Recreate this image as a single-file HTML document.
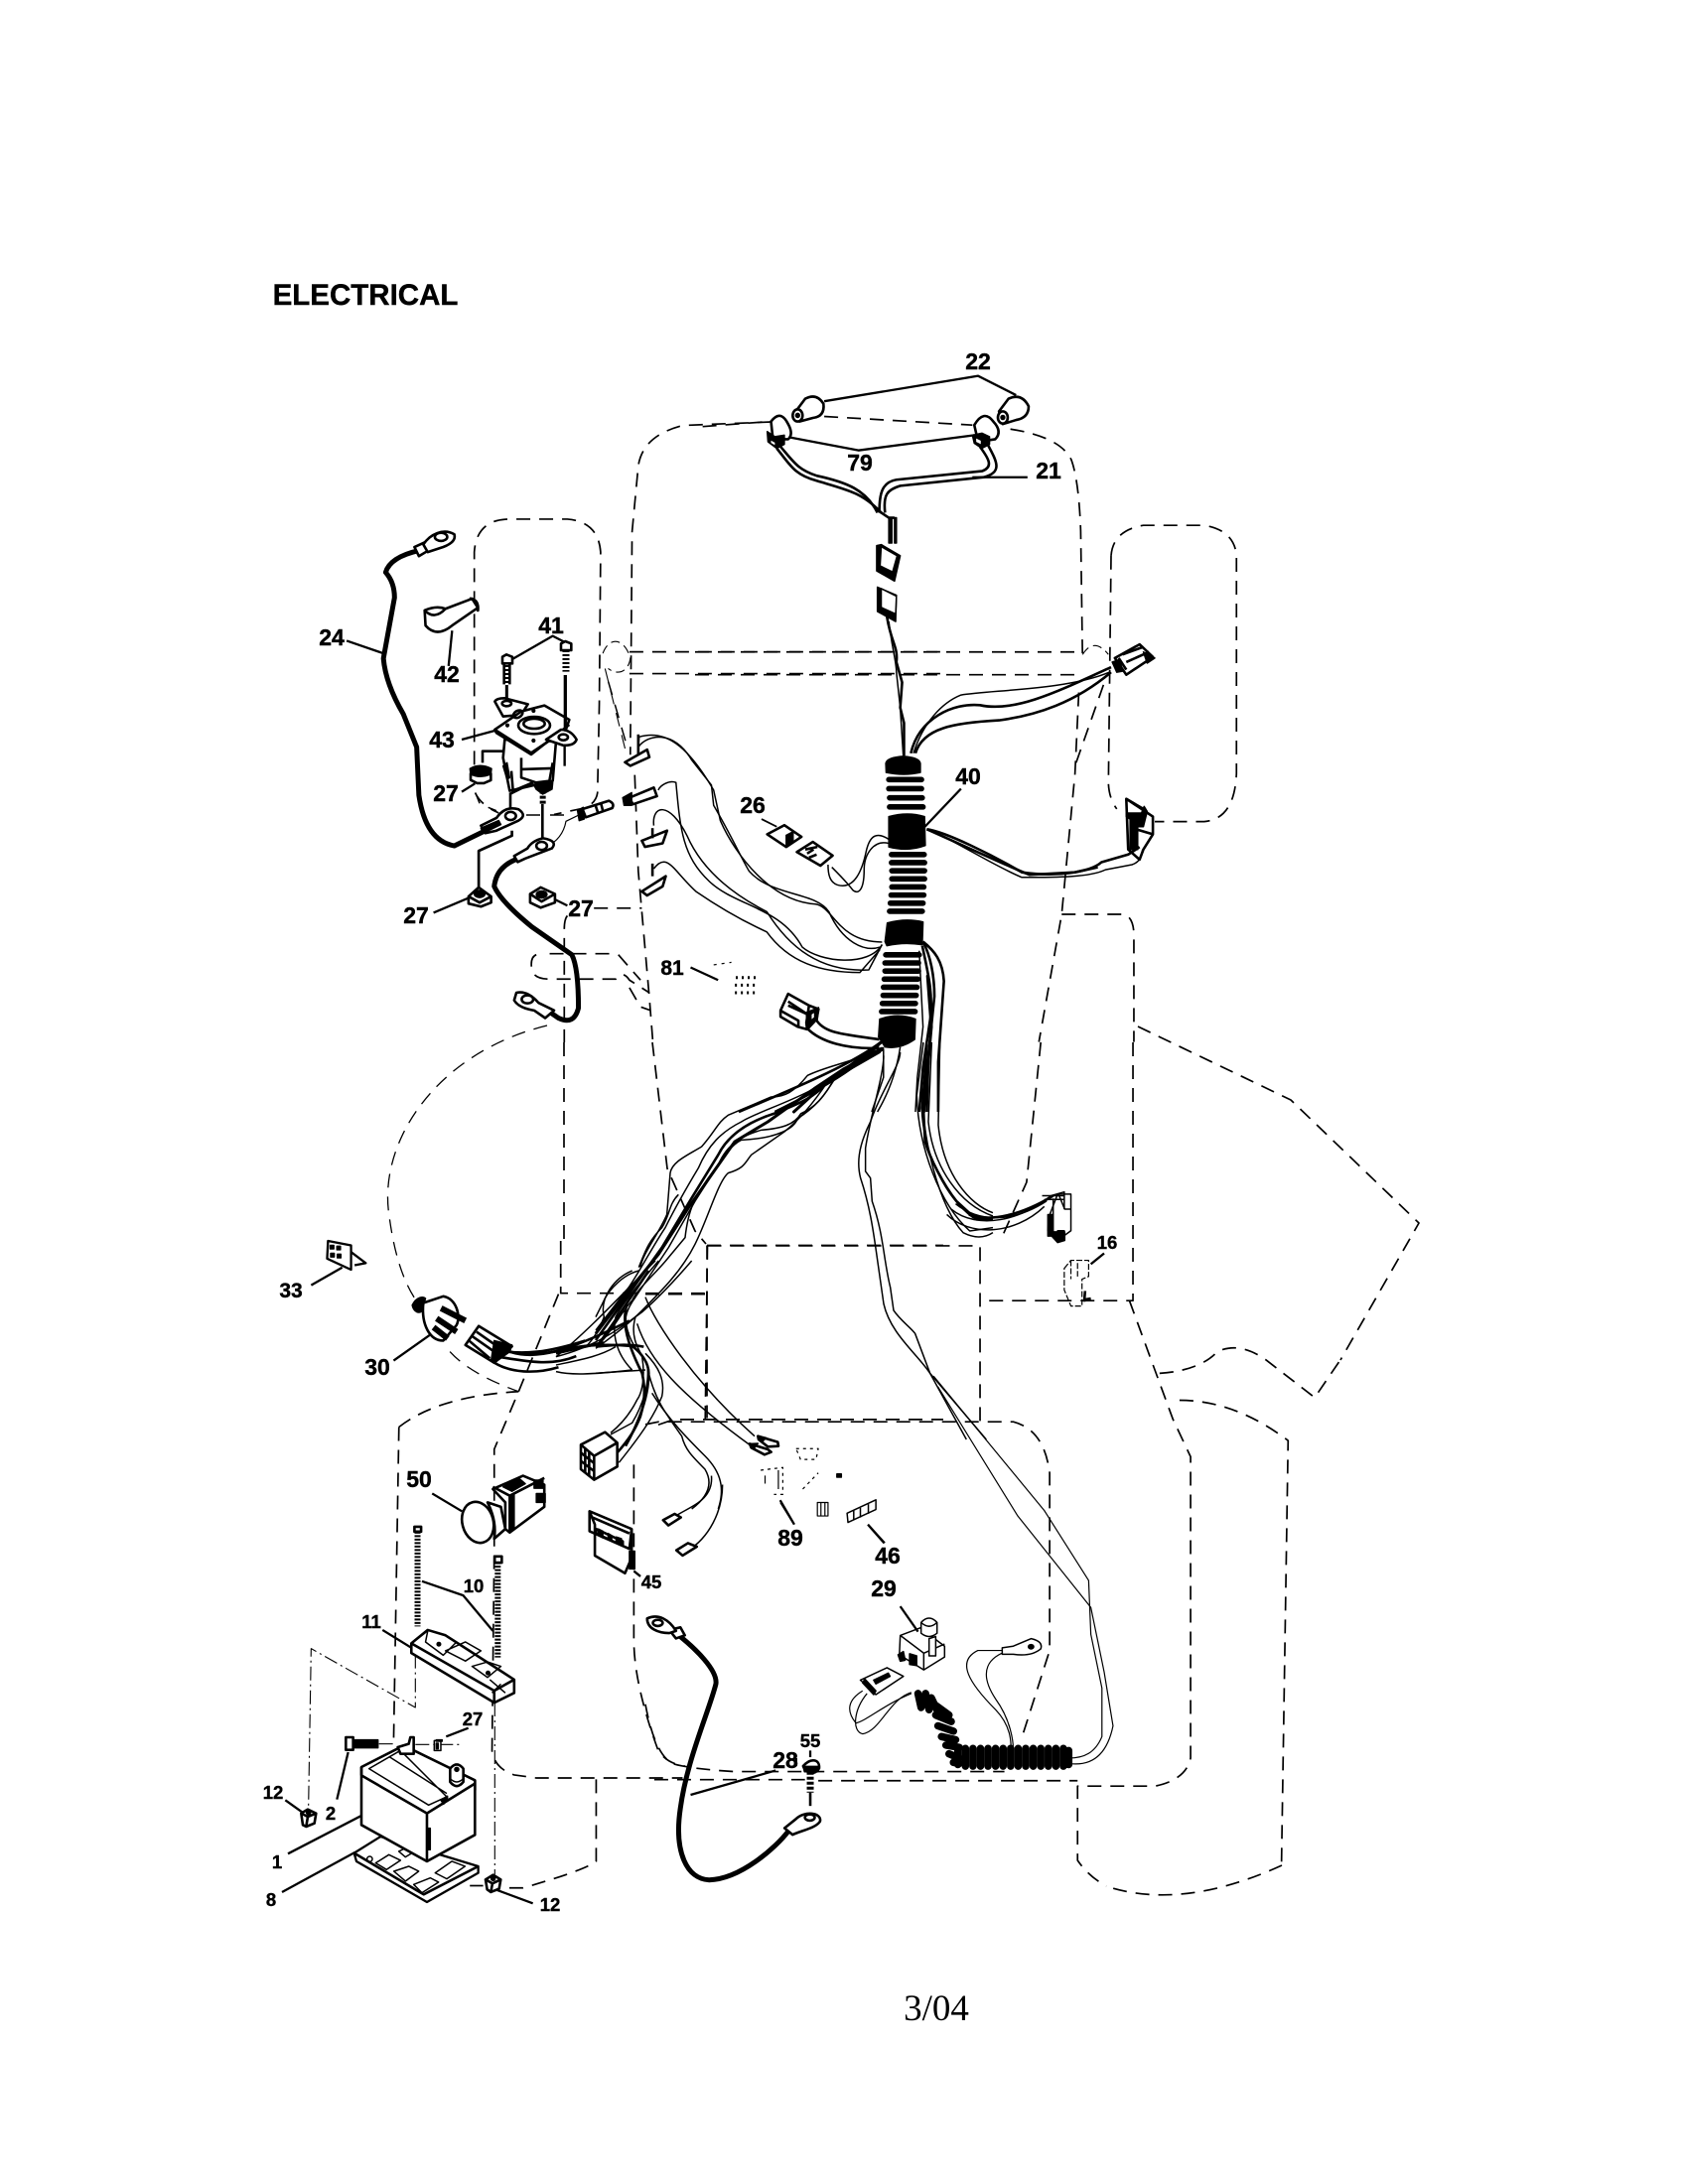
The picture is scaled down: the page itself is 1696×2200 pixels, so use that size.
<!DOCTYPE html>
<html><head><meta charset="utf-8"><title>Electrical</title>
<style>
html,body{margin:0;padding:0;background:#fff}
svg{display:block}
svg *{vector-effect:non-scaling-stroke}
path,ellipse,circle,rect,polygon,line{fill:none;stroke:#000;stroke-width:1.5;stroke-linejoin:round}
.d path,.d ellipse,path.d{stroke-dasharray:14 9;stroke-width:1.7}
.dd path{stroke-dasharray:14 4 2 4;stroke-width:1.1}
.w path{fill:#fff}
.f,path.f,polygon.f,ellipse.f,rect.f,circle.f{fill:#fff}
.k,path.k,polygon.k,ellipse.k,rect.k,circle.k{fill:#000}
.l path,path.l{stroke-width:2.3}
.c,path.c{stroke-width:4.5;stroke-linecap:round}
.h,path.h{stroke-width:2.6}
.t,path.t{stroke-width:1.2}
text{font-family:"Liberation Sans",sans-serif;font-weight:700;font-size:23px;text-anchor:middle;fill:#000;stroke:#000;stroke-width:.4}
text.s{font-size:18.5px}
</style></head><body>
<svg width="1696" height="2200" viewBox="0 0 1696 2200" xmlns="http://www.w3.org/2000/svg">
<rect x="0" y="0" width="1696" height="2200" style="fill:#fff;stroke:none"/>

<!-- dashed chassis : zoom 1 -->
<g class="d" transform="translate(250,250) scale(.4464,.5102)">
<path d="M510,1020 L510,600 Q515,535 590,535 H720 Q790,540 795,600 L792,900 L788,1075 Q785,1095 760,1105 L690,1118"/>
<path d="M512,1075 Q525,1100 565,1115"/>
<path d="M1180,343 L980,350 Q890,370 880,430 L866,560 L862,1000"/>
<path d="M872,1040 L880,1230 L905,1480 L913,1568"/>
<path d="M860,797 H1568"/><path d="M860,840 H1568"/>
<path d="M780,1303 H888"/><path d="M720,1318 Q713,1325 713,1345 V1568"/>
<path d="M680,1393 H830"/><path d="M650,1395 Q635,1400 640,1425 Q645,1443 680,1443 H830 Q845,1425 860,1445 L905,1470"/>
<path d="M835,1395 L885,1445"/><path d="M860,1460 L885,1498 L908,1505"/>
<path d="M805,830 L855,1005" style="stroke-width:1.1"/>
<path d="M800,800 C815,765 850,770 862,810 C858,835 835,845 812,830" style="stroke-width:1.1;stroke-dasharray:9 5"/>
</g>
<!-- dashed : zoom 2 -->
<g class="d" transform="translate(700,320) scale(.38265,.5102)">
<path d="M20,215 L195,205"/><path d="M340,195 L730,212"/>
<path d="M830,220 Q960,235 990,280 Q1010,320 1015,420 L1020,680"/>
<path d="M1010,740 L1000,900 L965,1178 L905,1430"/>
<path d="M0,660 H1015"/><path d="M0,705 H1010"/>
<path d="M1095,470 Q1100,420 1180,410 H1340 Q1420,420 1425,470 V900 Q1420,990 1340,995 H1210"/>
<path d="M1095,470 L1088,920 Q1090,950 1110,970"/>
<path d="M1075,725 L1000,885"/>
<path d="M1020,665 Q1050,630 1088,665" style="stroke-width:1.1;stroke-dasharray:9 5"/>
<path d="M965,1178 H1130 Q1155,1185 1155,1220 V1430"/>
</g>
<!-- dashed : zoom 4 -->
<g class="d" transform="translate(650,1050) scale(.4464,.5421)">
<path d="M1100,0 V480 H755"/>
<path d="M1092,480 L1190,700 L1230,770 V1330 Q1220,1370 1150,1382 H975 V1520 Q1000,1550 1040,1568"/>
<path d="M1205,665 Q1330,665 1450,740 L1435,1530"/>
<path d="M1160,615 Q1250,610 1290,575 Q1340,555 1400,590 L1510,660 L1568,590"/>
<path d="M892,0 L860,260 L800,370"/>
<path d="M140,378 H755 V710"/><path d="M140,378 L135,700"/><path d="M0,468 H135"/>
<path d="M0,710 L30,705 H830 Q900,720 912,800 V1130 L850,1290"/>
<path d="M20,1370 H360"/><path d="M390,1372 H975" style="stroke-dasharray:14 9"/>
<path d="M0,1230 Q20,1320 60,1340 Q100,1350 200,1355 H810"/>
</g>
<g class="d">
<path d="M1146,1034 L1300,1108 L1429,1232 L1350,1370"/>
<path d="M1291,1879 Q1190,1925 1114,1900"/>
<path d="M551,1033 C440,1060 380,1150 392,1225 C398,1270 410,1305 432,1325" style="stroke-width:1.3"/>
<path d="M657,1050 L672,1177 L700,1240 L711,1253"/>
<path d="M568,1050 V1250"/>
</g>
<!-- dashed : zoom 3 -->
<g class="d" transform="translate(250,1250) scale(.4464,.4464)">
<path d="M705,0 V118 H1030"/><path d="M1035,10 H1568"/><path d="M1035,10 V400"/>
<path d="M925,415 L960,403 H1568"/>
<path d="M870,505 V900 Q870,1000 925,1150 Q945,1180 985,1185"/>
<path d="M700,120 L610,340 L555,470 V700 L550,1150 Q555,1190 600,1205 L650,1212 H980"/>
<path d="M340,420 Q430,350 610,340"/><path d="M340,420 L328,1130"/>
<path d="M455,250 Q500,300 610,340" style="stroke-width:1.3"/>
<path d="M785,1215 V1400 Q760,1420 620,1460 H565"/><path d="M500,1455 H530"/>
</g>
<g class="dd" transform="translate(260,1650) scale(.3333)">
<path d="M475,50 V210 L160,32 L152,510"/>
<path d="M715,195 V715"/>
<path d="M365,320 H410"/><path d="M475,322 H610"/>
</g>

<!-- long wires zoom 4 lower -->
<g class="t" transform="translate(650,1050) scale(.4464,.5421)">
<path class="t" d="M660,640 L840,880 L1005,1050 L1035,1170 L1055,1270 C1040,1330 1000,1345 955,1340"/>
<path class="t" d="M650,620 L900,870 L1000,1000 L1005,1100 L1030,1200 L1030,1290 C1015,1320 990,1330 955,1330"/>
<path class="t" d="M810,1130 H750 C700,1150 730,1190 790,1240 C825,1270 825,1300 825,1315"/>
<path class="t" d="M830,1128 C770,1140 750,1170 790,1220 C825,1260 830,1300 830,1315"/>
<path class="t" d="M600,1208 C550,1220 530,1280 490,1285 C465,1280 470,1240 500,1210"/>
<path class="t" d="M600,1210 C540,1230 500,1260 475,1265 C450,1240 460,1220 490,1205"/>
<!-- ring -->
<path class="f" d="M805,1125 L830,1122 L870,1108 Q898,1113 892,1127 Q870,1142 830,1137 L805,1137 Z"/>
<ellipse class="k" cx="870" cy="1123" rx="6" ry="4"/>
<!-- coil -->
<path class="c" style="stroke-width:7.5;stroke-linecap:round" d="M705,1314 V1342 M722,1312 V1345 M739,1312 V1345 M756,1312 V1345 M773,1312 V1345 M790,1312 V1345 M807,1312 V1345 M824,1312 V1345 M841,1312 V1345 M858,1312 V1345 M875,1312 V1345 M892,1312 V1345 M909,1312 V1345 M926,1312 V1345 M943,1312 V1345 M955,1316 V1342"/>
<path class="c" style="stroke-width:7.5;stroke-linecap:round" d="M615,1210 L622,1236 M632,1210 L640,1240 M645,1218 L660,1244 M655,1232 L685,1250 M655,1250 L690,1262 M660,1270 L695,1280 M668,1290 L700,1296 M678,1306 L708,1310 M685,1322 L708,1330 M695,1338 L708,1340"/>
<!-- switch 29 -->
<path class="f" d="M575,1102 L620,1088 L675,1122 V1142 L628,1166 L573,1138 Z"/>
<path d="M575,1102 L628,1135 L675,1118 M628,1135 V1166"/>
<path class="f" d="M622,1078 Q640,1062 658,1078 V1098 Q640,1110 622,1098 Z"/>
<path d="M622,1078 Q640,1092 658,1078"/>
<path class="f" d="M640,1108 L655,1104 V1140 L640,1140 Z"/>
<path class="k" d="M570,1138 L582,1132 L586,1148 L575,1150 Z M596,1136 L612,1140 L612,1158 L596,1156 Z"/>
<path class="l" d="M575,1048 L615,1095"/>
<!-- connector coil end -->
<path class="f" d="M485,1185 L545,1162 L582,1178 L520,1212 Z"/>
<path class="k" d="M490,1190 L515,1212 L520,1205 L495,1183 Z M515,1185 L548,1172 L552,1178 L520,1192 Z"/>
<!-- 16 connector -->
<path class="f" d="M910,325 L930,282 H960 V350 L930,368 L908,350 Z"/>
<path class="k" d="M908,320 H920 V360 H908 Z M930,350 H945 V366 H930 Z M908,352 H946 V368 L930,372 Z"/>
<path d="M920,290 V320 M932,282 L946,310 H960"/>
<!-- ghost 16 -->
<path class="t" style="stroke-dasharray:6 2" d="M945,420 L960,405 H1000 V435 L985,440 V490 H960 L945,460 Z M960,405 V440 M975,410 V435"/>
<path class="l" d="M1035,392 L1005,412"/><path class="h" d="M990,478 L1005,476 M992,462 L990,482"/>
<!-- ghost 89 46 -->
<path class="t" style="stroke-dasharray:3 4" d="M340,755 H390 L385,775 H350 Z M260,795 L310,790 V840 H290 M355,830 L390,800"/>
<path class="t" d="M270,805 V820 M300,795 V830 M388,855 H412 V880 H388 Z M396,855 V880 M405,855 V880"/>
<path class="f" d="M455,875 L520,850 V868 L457,892 Z"/>
<path d="M470,870 V888 M485,865 V883 M503,858 V876"/>
<path class="k" d="M432,802 H442 V808 H432 Z"/>
<path class="l" style="stroke-width:1.8" d="M305,855 L335,895"/>
<path class="l" style="stroke-width:1.8" d="M502,896 L540,930"/>
<path class="l" d="M340,1345 V1330"/>
</g>

<!-- harness wires zoom 5 -->
<g transform="translate(600,1050) scale(.3333)">
<path d="M870,15 C780,60 700,70 640,100 C600,150 570,165 530,165 L400,220 C370,240 360,270 320,315 C280,340 230,360 225,395 L215,520 C190,580 140,640 135,680"/>
<path d="M870,15 C760,70 680,130 640,150 C560,190 480,215 440,240 C380,270 340,310 310,380 C280,430 250,480 210,560 C170,620 140,680 100,740 L0,870"/>
<path class="h" d="M870,20 L700,120 C660,170 600,190 540,215 C460,240 400,280 370,340 L290,470 L200,620 L100,760 L0,900"/>
<path d="M860,25 L730,100 C700,140 680,190 620,215 C600,250 560,260 500,265 C450,280 400,300 370,370 L300,480 L220,620 L120,770 C90,810 80,850 100,880"/>
<path d="M860,30 L720,110 C690,170 650,205 610,230 C600,260 550,290 440,295 C410,310 390,340 340,410 C300,470 280,500 270,590 L220,650 C180,700 130,740 110,780 C80,810 40,890 0,920"/>
<path d="M700,120 C660,180 620,230 570,270 L470,340 C450,365 450,380 400,395 C370,420 340,530 300,610 C260,690 200,750 140,810 C100,850 50,890 0,925"/>
<path class="h" style="stroke-width:3" d="M870,15 L750,80 L660,140 L520,240 L420,300 L350,400 L280,500 L190,640 L100,750 L0,880"/>
<path d="M130,690 C90,700 40,740 20,790 L0,830"/>
<path d="M250,460 C220,490 225,520 200,560 C160,600 150,630 130,680"/>
<path class="h" d="M0,920 C50,915 100,910 145,920"/>
<path d="M0,1000 L150,990"/>
<path d="M1040,0 L1035,250 C1050,400 1130,490 1200,515"/>
<path d="M1015,0 L1005,240 C1020,380 1100,490 1200,525"/>
<path d="M1000,0 L985,200 C990,340 1060,470 1140,530 L1200,535"/>
<path class="h" d="M1000,0 L990,200 L995,300 C1010,350 1050,430 1090,480 L1150,535 L1200,535"/>
<path d="M990,0 L970,160 C975,320 1040,490 1130,570 L1200,560"/>
<path d="M985,120 C985,300 1040,500 1110,575 C1140,590 1170,595 1200,575"/>
<path d="M870,40 C870,100 830,220 815,320 L815,390 L830,410 L835,480 C870,580 870,660 890,740 L900,810 C920,840 950,860 965,880 L1010,1000 L1180,1200"/>
<path d="M920,30 C920,70 860,150 830,240 C790,320 790,370 800,410 C830,500 840,580 850,650 L870,790 C890,880 970,940 1010,1000 L1120,1200"/>
</g>
<!-- right wires to 16 -->
<g transform="translate(650,1050) scale(.4464,.5421)">
<path d="M700,300 C760,340 840,330 905,295"/>
<path d="M690,310 C750,350 850,330 915,285"/>
<path class="h" d="M730,320 C780,335 850,320 920,285"/>
<path d="M680,320 C730,360 830,360 900,305"/>
<path d="M895,285 H945"/><path d="M900,292 H945"/><path d="M915,285 L945,278 V310"/>
</g>
<!-- harness continuation zoom 7 -->
<g transform="translate(560,1270) scale(.3333)">
<path d="M410,0 C350,70 300,120 260,155 C200,200 120,260 0,290"/>
<path d="M300,0 C200,100 100,210 0,290"/>
<path d="M230,30 C180,50 130,110 145,170 C130,210 110,240 90,260"/>
<path class="h" d="M280,30 C240,90 180,180 130,250 L0,280"/>
<path d="M310,0 C250,70 200,130 180,170 C170,220 180,280 230,330"/>
<path d="M270,110 C300,190 420,370 600,530"/>
<path d="M245,190 C280,300 370,400 590,560"/>
<path class="h" d="M0,275 C60,255 150,250 230,258 C260,280 280,310 280,340 C280,400 260,470 210,560"/>
<path class="h" d="M210,150 C200,210 230,280 260,340 C270,380 270,420 255,470 C240,510 220,540 185,580"/>
<path d="M240,170 C225,220 240,260 275,310 C285,370 260,440 230,490 L165,525"/>
<path d="M215,130 C205,180 210,230 260,290 C270,350 260,400 245,420 C220,470 190,500 165,520"/>
<path d="M0,335 C40,345 100,345 230,330"/>
<path d="M270,280 C310,320 330,360 320,410 C300,460 270,510 190,610"/>
<path d="M280,340 C300,420 330,460 380,530 C390,570 410,590 450,630 C480,680 450,720 410,750"/>
<path d="M290,400 C340,480 400,540 450,590 C500,640 510,690 490,750"/>
<path d="M0,315 C70,300 130,290 180,260"/>
<!-- terminals -->
<path class="f h" d="M610,530 L670,548 L672,560 L640,562 L612,540 Z"/>
<path class="f h" d="M585,553 L640,570 L650,578 L630,586 L590,565 Z"/>
<path class="k" d="M610,530 L635,535 L625,545 Z M585,553 L610,552 L600,565 Z"/>
<!-- 8-way connector -->
<path class="f h" d="M75,556 L148,518 L185,550 V622 L115,662 L75,630 Z"/>
<path class="h" d="M75,556 L115,590 L185,550 M115,590 V662"/>
<path class="h" d="M88,566 V640 M100,575 V650 M75,580 L115,612 M75,605 L115,636"/>
</g>

<!-- zoom 3 items -->
<g transform="translate(250,1250) scale(.4464)">
<!-- terminals 45 wires -->
<path d="M1045,530 C1050,590 990,600 950,630"/>
<path d="M1070,550 C1070,610 1040,670 990,700"/>
<path class="f h" d="M936,630 L962,616 L976,624 L948,642 Z"/>
<path class="f h" d="M966,698 L992,682 L1012,690 L980,710 Z"/>
<!-- 33 -->
<path class="f l" d="M180,0 L232,10 V65 L178,40 Z"/>
<path class="l" d="M232,25 L265,50 L240,55"/>
<path class="k" d="M185,10 h8 v8 h-8z M200,12 h8 v8 h-8z M186,28 h8 v8 h-8z M201,30 h8 v8 h-8z"/>
<path class="l" d="M142,100 L212,60"/>
<!-- 30 switch -->
<path class="f h" d="M395,140 L440,125 C470,130 480,170 470,190 L440,225 C410,225 390,190 395,140 Z"/>
<path class="k" d="M370,145 C380,125 395,125 400,130 L390,160 C380,165 372,155 370,145 Z"/>
<path class="c" style="stroke-width:6;stroke-linecap:butt" d="M435,152 L490,180 M425,175 L470,205 M418,195 L450,220"/>
<path class="l" d="M328,270 L410,212"/>
<path class="f h" d="M490,235 L520,192 L595,238 L555,275 Z"/>
<path class="h" d="M498,225 L545,265 M505,215 L555,250 M515,205 L565,240"/>
<path class="k" d="M555,225 L595,235 L590,250 L560,272 L548,270 Z"/>
<path class="h" d="M555,245 C620,260 680,250 760,225 M555,260 C620,270 680,285 740,260 M548,270 C590,300 650,300 700,285 M590,250 C650,270 720,250 860,180"/>
<path class="c" style="stroke-width:2.8" d="M590,250 C640,262 700,250 800,230"/>
<!-- 50 -->
<ellipse class="f h" cx="518" cy="635" rx="35" ry="47" transform="rotate(-15 518 635)"/>
<path class="f h" d="M540,590 L570,600 L580,650 L555,672 C560,640 550,610 540,590 Z"/>
<path class="f h" d="M552,560 L620,530 L668,550 V600 L590,658 L580,650 V590 Z"/>
<path class="h" d="M590,658 V575 L552,555 M590,575 L668,535"/>
<path class="k" d="M590,575 L600,570 V650 L590,658 Z M575,555 L610,535 L625,548 L595,565 Z M645,540 h20 v18 h-20z M650,570 h20 v20 h-20z"/>
<path class="l" d="M415,570 L482,610"/>
<!-- 45 -->
<path class="f h" d="M770,610 L865,650 V715 L850,750 L782,710 V640 Z"/>
<path class="h" d="M772,622 L860,660 M770,610 V655 L860,695 L865,650 M785,650 L845,678 V688 L785,660 Z"/>
<path class="k" d="M790,650 L800,655 V670 L790,665 Z M812,660 L820,665 V675 L812,672 Z M830,668 L842,672 V685 L830,680 Z"/>
<path class="k" d="M860,700 h12 v40 h-12z"/>
<path class="l" d="M870,745 L885,757"/>
<!-- 10 bolts -->
<path class="c" style="stroke-width:6;stroke-linecap:butt;stroke-dasharray:2 1.5" d="M382,656 V870"/>
<path class="f h" d="M375,645 L390,645 V656 H375 Z"/>
<path class="c" style="stroke-width:6;stroke-linecap:butt;stroke-dasharray:2 1.5" d="M563,725 V940"/>
<path class="f h" d="M556,712 H572 V726 H556 Z"/>
<path class="l" d="M392,768 L485,800 L552,880"/>
<path class="l" d="M303,878 L368,918"/>
<!-- 11 bracket -->
<path class="f h" d="M368,908 L405,878 L445,890 L600,990 V1020 L555,1042 L368,930 Z"/>
<path class="h" d="M368,908 L555,1015 V1042 M555,1015 L600,990"/>
<path d="M405,880 L400,905 L440,935 L470,905 M430,910 v4 M445,925 L490,948 L525,925 L490,905 Z M505,960 L540,985 L570,960 L540,950 Z M545,990 L580,1020 M570,1000 L550,1020"/>
<circle class="k" cx="430" cy="910" r="4"/><circle class="k" cx="541" cy="975" r="4"/>
<!-- cable 28 -->
<path class="c" style="stroke-width:5" d="M965,885 C1010,920 1060,970 1055,1000 C1040,1060 990,1170 975,1280 C960,1380 990,1440 1040,1442 C1110,1440 1190,1370 1220,1330"/>
<path class="f h" d="M950,878 L975,872 L985,890 L965,897 Z"/>
<path class="f h" d="M900,852 C925,840 950,855 965,880 L950,885 C925,885 900,875 900,852 Z"/>
<ellipse class="f h" cx="924" cy="862" rx="11" ry="7"/>
<path class="f h" d="M1210,1325 L1235,1305 C1255,1285 1295,1290 1290,1310 C1280,1325 1250,1330 1228,1340 Z"/>
<ellipse class="f h" cx="1267" cy="1301" rx="11" ry="7"/>
<path class="l" d="M998,1250 L1190,1195"/>
<!-- 55 bolt -->
<path class="f h" d="M1252,1185 C1270,1165 1290,1170 1288,1190 C1280,1205 1260,1205 1252,1185 Z"/>
<path class="k" d="M1252,1186 L1288,1186 L1285,1198 L1255,1198 Z"/>
<path class="c" style="stroke-width:7;stroke-linecap:butt;stroke-dasharray:3 2" d="M1268,1198 V1245"/>
<path class="h" d="M1268,1245 V1275"/>
<path class="l" d="M1268,1150 V1165"/>
<path class="l" d="M1200,585 L1232,640"/>
<path class="l" d="M1398,640 L1435,682"/>
</g>

<!-- battery zoom 8 -->
<g transform="translate(260,1650) scale(.3333)">
<!-- tray -->
<path class="f l" d="M290,650 L370,600 L665,690 V710 L510,798 L297,675 Z"/>
<path class="h" d="M290,650 L500,775 L665,690"/>
<path d="M355,680 L395,655 L430,672 L388,700 Z M410,705 L455,690 L485,705 L445,735 Z M470,745 L520,725 L545,738 L495,770 Z M535,710 L585,675 L625,690 L570,728 Z M425,645 L445,635 L465,650 L445,662 Z"/>
<circle cx="337" cy="668" r="8"/>
<!-- battery -->
<path class="f h" d="M312,390 L440,325 L655,430 V595 L510,675 L312,565 Z"/>
<path class="h" d="M312,415 L510,530 L655,440 M510,530 V675 M312,390 V415 M655,430 V460"/>
<path d="M335,395 L430,340 L570,480 L515,505 Z M395,358 L570,470"/>
<path class="k" d="M510,575 h10 v65 h-10z M552,490 L572,478 V490 L560,502 Z"/>
<path class="f h" d="M580,395 Q600,370 620,395 V435 Q600,460 580,435 Z"/>
<path d="M580,425 Q600,445 620,425"/><circle class="k" cx="600" cy="397" r="6"/>
<path class="f h" d="M422,330 L455,320 L460,300 L470,300 V350 H430 Z"/>
<path class="f" d="M532,310 H552 V340 H532 Z"/><path class="k" d="M538,308 H556 V312 H538 Z M538,318 H544 V335 H538 Z"/>
<!-- bolt 2 -->
<path class="k" d="M285,308 H362 V332 H285 Z"/>
<path class="f h" d="M265,300 H287 V338 H265 Z"/>
<path class="l" d="M272,345 L238,488"/>
<path class="l" d="M568,298 L635,272"/>
<path class="l" d="M82,490 L135,528"/>
<path class="l" d="M90,652 L310,538"/>
<path class="l" d="M72,768 L292,648"/>
<path class="l" d="M722,762 L830,802"/>
<!-- cage nuts -->
<path class="f h" d="M130,530 L150,518 L175,530 L170,560 L145,570 L135,565 Z"/>
<path class="h" d="M130,530 L150,540 L175,530 M150,540 L145,570"/><circle class="k" cx="152" cy="528" r="6"/>
<path class="f h" d="M687,730 L710,716 L733,730 L728,758 L703,768 L692,760 Z"/>
<path class="h" d="M687,730 L708,742 L733,730 M708,742 L703,768"/><circle class="k" cx="710" cy="727" r="6"/>
</g>

<!-- solenoid zoom 6 -->
<g transform="translate(450,620) scale(.3333)">
<path class="f h" d="M175,375 L170,430 L190,530 L320,500 L330,380 Z"/>
<path class="h" d="M195,470 L200,530 L260,505 M225,430 V490 L270,505 L310,500 L320,445 M225,465 L320,462"/>
<path class="f h" d="M145,260 Q150,250 175,250 L245,268 L225,300 L170,305 Z"/>
<path class="f h" d="M145,345 L225,290 L295,272 L370,315 L360,345 L255,415 Z"/>
<path class="h" d="M145,345 L150,355 L255,420 L370,330"/>
<ellipse class="f h" cx="264" cy="332" rx="48" ry="26"/><ellipse class="h" cx="264" cy="327" rx="32" ry="15"/>
<ellipse class="h" cx="181" cy="266" rx="14" ry="8"/><ellipse class="h" cx="215" cy="298" rx="15" ry="10" transform="rotate(-30 215 298)"/>
<circle class="k" cx="183" cy="332" r="4"/><circle class="k" cx="262" cy="288" r="4"/><circle class="k" cx="262" cy="378" r="4"/>
<path class="f h" d="M300,375 L345,345 Q375,345 392,375 Q385,395 350,392 Z"/>
<ellipse class="h" cx="352" cy="368" rx="14" ry="9"/>
<!-- bolts -->
<path class="f h" d="M168,125 L180,118 L198,125 V145 L168,145 Z"/>
<path class="c" style="stroke-width:5;stroke-linecap:butt;stroke-dasharray:2 2" d="M181,150 V208"/>
<path class="h" d="M173,145 V208 M190,145 V208"/>
<path class="l" style="stroke-width:3" d="M181,210 V258"/>
<path class="f h" d="M345,85 L358,78 L376,85 V105 L345,105 Z"/>
<path class="c" style="stroke-width:7;stroke-linecap:butt;stroke-dasharray:2 2" d="M360,105 V170"/>
<path class="l" style="stroke-width:3.3" d="M358,180 V350"/><path class="l" style="stroke-width:2.4" d="M356,390 V455"/>
<path class="l" d="M198,132 L320,62 L355,80"/>
<path class="l" d="M45,375 L145,348"/>
<!-- stud -->
<path class="k" d="M262,510 L320,505 L318,525 L290,540 L270,525 Z"/>
<path class="c" style="stroke-width:6;stroke-linecap:butt;stroke-dasharray:3 2" d="M290,530 V570"/>
<path class="l" style="stroke-width:2.6" d="M289,570 V678"/>
<path class="l" style="stroke-width:2.6" d="M192,535 V600"/>
<path class="k" d="M170,455 L182,445 L190,490 L182,495 Z"/>
<path class="h" d="M175,410 H108 V445"/>
<path class="h" d="M190,540 L260,505"/>
<!-- 27 nut -->
<path class="k" d="M70,463 Q100,445 135,463 L133,480 Q100,495 72,480 Z"/>
<path class="f h" d="M72,478 Q100,492 133,478 V498 L112,507 H92 L72,497 Z"/>
<path class="l" d="M45,533 L85,508"/>
<!-- dashed ghost -->
<path class="d" style="stroke-width:1.5;stroke-dasharray:10 6" d="M88,540 L100,570 M125,580 L150,590"/>
<path class="d" style="stroke-width:1.5;stroke-dasharray:14 10" d="M240,603 H370"/>
<path class="d" style="stroke-width:1.5;stroke-dasharray:14 10" d="M488,200 L540,380"/>
<!-- fuse holders -->
<path class="t" d="M405,600 L360,622 C355,650 340,680 300,700"/>
<path class="f h" d="M410,585 L490,560 Q508,568 500,582 L420,610 Z"/>
<path class="h" d="M448,570 L458,600 M465,565 L472,592"/>
<path class="k" d="M395,590 L412,580 L415,615 L400,620 Z"/>
</g>

<!-- cables zoom 1 -->
<g transform="translate(250,250) scale(.4464,.5102)">
<path class="c" style="stroke-width:5" d="M385,597 Q320,610 310,640 Q330,660 330,690 L305,810 Q310,860 350,920 L380,985 L385,1080 Q400,1170 465,1180 L535,1150"/>
<path class="f h" d="M375,590 L400,580 L410,595 L385,608 Z"/>
<path class="f h" d="M395,585 C410,565 440,552 465,565 Q470,580 440,590 L405,600 Z"/>
<ellipse class="f h" cx="435" cy="570" rx="14" ry="8"/>
<path class="f h" d="M525,1140 L560,1125 Q580,1100 610,1108 Q630,1120 610,1130 L560,1150 L535,1155 Z"/>
<ellipse class="f h" cx="592" cy="1121" rx="12" ry="8"/>
<path class="k" d="M525,1145 L565,1130 L570,1138 L530,1155 Z"/>
<path class="l" style="stroke-width:2.7" d="M595,1150 V1160 L520,1190 V1265"/>
<path class="c" style="stroke-width:5" d="M610,1205 Q560,1220 555,1260 Q570,1290 640,1340 L730,1395 Q745,1420 745,1500 Q735,1535 700,1520 L675,1505"/>
<path class="f h" d="M600,1200 L630,1185 Q640,1170 665,1165 Q700,1170 685,1185 L625,1205 L608,1212 Z"/>
<ellipse class="f h" cx="662" cy="1180" rx="12" ry="8"/>
<path class="f h" d="M605,1470 Q630,1465 655,1490 L690,1505 L670,1520 L645,1505 Q610,1500 600,1485 Z"/>
<ellipse class="f h" cx="630" cy="1483" rx="13" ry="8"/>
<!-- wires left of conduit -->
<path d="M880,985 L882,965 C940,950 990,980 1050,1070 L1065,1130 C1100,1200 1180,1290 1280,1295 C1320,1300 1330,1370 1430,1370"/>
<path d="M880,985 C900,960 960,950 1000,1010 L1045,1060 L1050,1100 C1090,1160 1110,1200 1130,1230 C1180,1280 1280,1270 1310,1310 C1340,1370 1390,1390 1425,1380"/>
<path d="M925,1070 C930,1060 950,1050 965,1055 C975,1150 980,1200 1040,1250 C1100,1300 1200,1300 1250,1380 C1290,1410 1400,1420 1430,1375"/>
<path d="M915,1140 C910,1100 950,1090 990,1160 C1020,1220 1080,1270 1170,1310 C1220,1380 1290,1430 1400,1425 L1430,1375"/>
<path d="M915,1225 C945,1190 960,1230 1010,1270 C1060,1300 1120,1330 1170,1350 C1220,1410 1290,1430 1380,1430 L1425,1385"/>
<path class="f h" d="M850,1015 L900,990 L905,1005 L862,1022 Z"/><path class="h" d="M880,960 V1000"/>
<path class="f h" d="M888,1170 L945,1150 L935,1175 L895,1182 Z"/><path class="h" d="M912,1145 V1165"/>
<path class="f h" d="M888,1270 L942,1240 L935,1260 L900,1278 Z"/><path class="h" d="M912,1215 V1240"/>
<path class="f h" d="M860,1085 L915,1065 L922,1082 L868,1098 Z"/><path class="k" d="M845,1085 L865,1075 L865,1100 L848,1100 Z"/>
<path class="l" d="M222,775 L305,800"/><path class="l" d="M460,755 L452,825"/>
<path class="l" d="M418,1312 L497,1283"/><path class="l" d="M690,1285 L720,1298"/>
<path class="f h" d="M497,1280 L520,1262 L548,1280 V1292 L525,1300 L497,1294 Z"/>
<path class="h" d="M497,1280 L522,1292 L548,1280"/><ellipse class="k" cx="522" cy="1275" rx="12" ry="7"/>
<path class="f h" d="M636,1275 L660,1262 L692,1275 V1292 L660,1302 L636,1292 Z"/>
<path class="h" d="M636,1275 L662,1290 L692,1275"/><ellipse class="k" cx="662" cy="1276" rx="12" ry="7"/>
<!-- 42 -->
<path class="f h" d="M398,715 Q425,705 445,712 L505,692 L518,710 L460,745 Q425,770 400,745 Z"/>
<path class="h" d="M398,715 Q420,735 445,712"/><path class="c" style="stroke-width:3" d="M502,692 Q520,695 518,715"/>
<path class="l" d="M998,1420 L1060,1445"/>
<path class="t" style="stroke-dasharray:3 5" d="M1050,1415 L1090,1410"/>
<path class="t" style="stroke-width:3;stroke-dasharray:2 4" d="M1100,1440 H1150 M1098,1455 H1148 M1098,1470 H1150"/>
</g>

<!-- zoom 2 items -->
<g transform="translate(700,320) scale(.38265,.5102)">
<path class="l" d="M340,165 L745,115 L845,153"/>
<path class="l" d="M240,235 L430,262 L735,232"/>
<path class="l" d="M730,315 H875"/>
<path class="l" d="M700,930 L605,1005"/>
<path class="l" style="stroke-width:1.8" d="M175,990 L215,1005"/>
<!-- bulbs -->
<path class="f h" d="M265,185 L290,160 Q320,148 338,170 Q342,195 310,198 L275,205 Z"/>
<ellipse class="f h" cx="270" cy="193" rx="13" ry="12"/><ellipse class="k" cx="270" cy="193" rx="5" ry="4"/>
<path class="f h" d="M800,185 L825,160 Q860,148 878,175 Q878,198 845,202 L810,210 Z"/>
<ellipse class="f h" cx="810" cy="197" rx="13" ry="12"/><ellipse class="k" cx="810" cy="197" rx="5" ry="4"/>
<!-- sockets -->
<path class="f h" d="M200,205 Q225,180 245,210 Q260,230 245,240 H205 Z"/>
<path class="k" d="M190,225 L210,235 L235,232 V250 L215,258 L192,245 Z"/>
<path class="f" d="M198,240 L212,246 V254 L198,248 Z"/>
<path class="f h" d="M735,212 Q760,180 785,205 Q810,225 790,240 L745,245 Z"/>
<path class="k" d="M730,232 L755,228 L775,235 V250 L755,258 L735,248 Z"/>
<path class="f" d="M738,236 L754,242 V252 L738,246 Z"/>
<!-- wires -->
<path class="h" d="M222,252 C260,285 270,300 320,312 C400,325 450,340 480,385"/>
<path class="h" d="M215,258 C250,290 260,310 320,322 C400,340 440,345 490,385"/>
<path class="h" d="M750,255 C775,280 785,295 755,303 L530,320 C490,325 485,350 485,385"/>
<path class="h" d="M770,250 C795,285 810,305 760,315 L540,332 C505,340 495,350 500,385"/>
<path class="h" d="M480,380 L510,395 L525,395"/>
<path class="k" d="M510,395 h8 v50 h-8z M525,395 h5 v50 h-5z"/>
<!-- connectors -->
<path class="k" d="M478,450 L490,448 L540,470 L525,520 L478,500 Z"/>
<path class="f" d="M490,452 L532,470 L520,502 L487,490 Z"/>
<path class="k" d="M480,532 L530,548 L528,600 L480,580 Z"/>
<path class="f" d="M490,535 L530,550 L528,585 L490,572 Z"/>
<path class="h" d="M505,590 C515,640 535,650 530,680 L545,720 L540,770 L550,800 V865"/>
<path d="M510,600 C520,660 530,680 530,700 L540,770 L548,865"/>
<!-- right wires -->
<path class="h" d="M568,860 C590,790 680,760 750,765 C840,780 950,740 1095,690"/>
<path class="h" d="M580,860 C600,810 680,800 800,795 C900,785 1000,760 1095,700"/>
<path d="M575,860 C600,800 650,760 700,745 C780,735 980,735 1090,700"/>
<path class="f h" d="M1105,672 L1170,645 L1205,670 L1135,705 Z"/>
<path class="h" d="M1115,672 L1135,695 M1125,665 L1180,650 M1135,680 L1195,660"/>
<path class="k" d="M1180,660 L1210,672 L1190,682 Z M1098,680 L1118,675 L1125,698 L1110,700 Z"/>
<!-- right conn lower -->
<path class="f h" d="M1135,950 L1205,985 L1205,1020 L1180,1050 L1170,1070 L1140,1050 Z"/>
<path class="k" d="M1135,978 L1175,978 L1182,965 L1190,975 L1180,1005 L1165,1005 V1050 H1145 L1145,990 L1135,985 Z"/>
<path class="h" d="M1135,950 L1180,970 M1160,1010 L1205,1020"/>
<!-- wires to it -->
<path class="h" d="M610,1010 C660,1015 780,1060 860,1095 C950,1105 1040,1095 1070,1075 L1140,1060 L1170,1045"/>
<path d="M610,1010 C680,1030 780,1080 860,1105 C950,1105 1040,1105 1080,1090 L1150,1080 C1170,1075 1175,1065 1178,1050"/>
<path class="h" d="M610,1010 C700,1040 800,1075 880,1100 L1000,1095 L1060,1085"/>
<!-- 26 -->
<path d="M510,1030 C480,1015 460,1020 450,1055 C440,1090 420,1130 375,1120 C355,1115 350,1100 350,1080"/>
<path d="M510,1038 C470,1030 445,1060 445,1090 C445,1130 430,1140 415,1130 C400,1115 380,1100 360,1085"/>
<path class="f h" d="M190,1020 L235,1002 L280,1025 L240,1045 Z"/>
<path class="k" d="M240,1022 L258,1015 V1035 L240,1042 Z"/>
<path class="f h" d="M268,1055 L310,1035 L362,1062 L330,1082 Z"/>
<path class="h" d="M290,1050 L322,1045 M295,1058 L312,1050 M300,1066 L320,1060"/>
<!-- 81 conn -->
<path class="f h" d="M225,1368 L245,1335 L300,1358 L325,1365 L320,1385 L295,1405 L270,1400 L225,1380 Z"/>
<path class="h" d="M245,1350 L295,1375 L245,1358 M225,1368 L272,1388 V1400 M300,1358 L293,1392 L295,1405"/>
<path class="k" d="M293,1372 L325,1362 L322,1385 L295,1403 Z"/>
<path class="f" d="M305,1375 L315,1370 V1382 L305,1388 Z"/>
<path class="h" d="M318,1385 C340,1415 400,1415 485,1425"/>
<path class="h" d="M295,1403 C330,1430 400,1445 485,1442"/>
</g>

<!-- conduit -->
<g transform="translate(700,320) scale(.38265,.5102)">
<path class="f" style="stroke:none" d="M505,870 H592 L605,1040 L600,1240 L578,1440 H485 L495,1240 L510,1040 Z"/>
<path class="c" style="stroke-width:5.6;stroke-linecap:round" d="M510,912 H596 M510,930 H596 M512,948 H598 M512,966 H600 M517,1060 H603 M517,1076 H604 M518,1092 H604 M518,1108 H604 M518,1124 H602 M516,1140 H602 M514,1156 H600 M512,1172 H598 M502,1258 H590 M500,1274 H588 M500,1290 H588 M498,1306 H586 M496,1322 H584 M495,1338 H582 M493,1354 H580 M491,1370 H579"/>
<path class="k" d="M502,880 Q505,868 548,866 Q590,868 593,880 V898 Q550,905 503,898 Z"/>
<path class="k" d="M510,985 Q560,975 604,985 L606,1042 Q560,1055 510,1045 Z"/>
<path class="k" d="M506,1195 Q555,1185 600,1193 L598,1238 Q550,1232 505,1240 L500,1232 Z"/>
<path class="k" d="M486,1385 Q535,1372 580,1385 L578,1425 Q540,1445 500,1440 L483,1420 Z"/>
<path class="h" d="M600,1232 C630,1250 652,1270 655,1310 L640,1470 L640,1568"/>
<path class="h" d="M600,1232 C620,1260 630,1300 630,1340 L615,1450 L610,1568"/>
<path class="h" d="M598,1240 C615,1300 625,1330 620,1380 L600,1480 L590,1568"/>
<path d="M590,1250 L600,1400 L585,1500 L580,1568"/>
<path class="c" style="stroke-width:3" d="M612,1300 L622,1400 L602,1568"/>
<path d="M496,1445 V1500 L465,1568"/><path d="M540,1440 C530,1490 510,1530 480,1568"/>
<path class="h" d="M490,1430 C420,1470 300,1510 115,1568"/>
<path class="h" d="M490,1430 C430,1480 340,1520 210,1568"/>
<path class="c" style="stroke-width:3" d="M495,1428 L330,1520 L260,1568"/>
</g>

<!-- labels -->
<text x="368" y="307" style="font-size:29.5px">ELECTRICAL</text>
<text x="334" y="650">24</text><text x="450" y="687">42</text>
<text x="555" y="638">41</text><text x="445" y="753">43</text>
<text x="449" y="807">27</text><text x="419" y="930">27</text>
<text x="585" y="923">27</text><text x="677" y="982" style="font-size:21px">81</text>
<text x="758" y="819">26</text><text x="866" y="474">79</text>
<text x="985" y="372">22</text><text x="1056" y="482">21</text>
<text x="975" y="790">40</text><text x="293" y="1307" class="s" style="font-size:21px">33</text>
<text x="380" y="1385">30</text><text x="422" y="1498">50</text>
<text x="477" y="1604" class="s">10</text><text x="374" y="1640" class="s">11</text>
<text x="476" y="1738" class="s">27</text><text x="275" y="1812" class="s">12</text>
<text x="333" y="1833" class="s">2</text><text x="279" y="1882" class="s">1</text>
<text x="273" y="1920" class="s">8</text><text x="554" y="1925" class="s">12</text>
<text x="656" y="1600" class="s">45</text><text x="796" y="1557">89</text>
<text x="894" y="1575">46</text><text x="890" y="1608">29</text>
<text x="791" y="1781">28</text><text x="816" y="1760" class="s">55</text>
<text x="1115" y="1258" class="s">16</text>
<text x="943" y="2035" style="font-family:'Liberation Serif',serif;font-weight:400;font-size:37px;stroke:none">3/04</text>
</svg>
</body></html>
